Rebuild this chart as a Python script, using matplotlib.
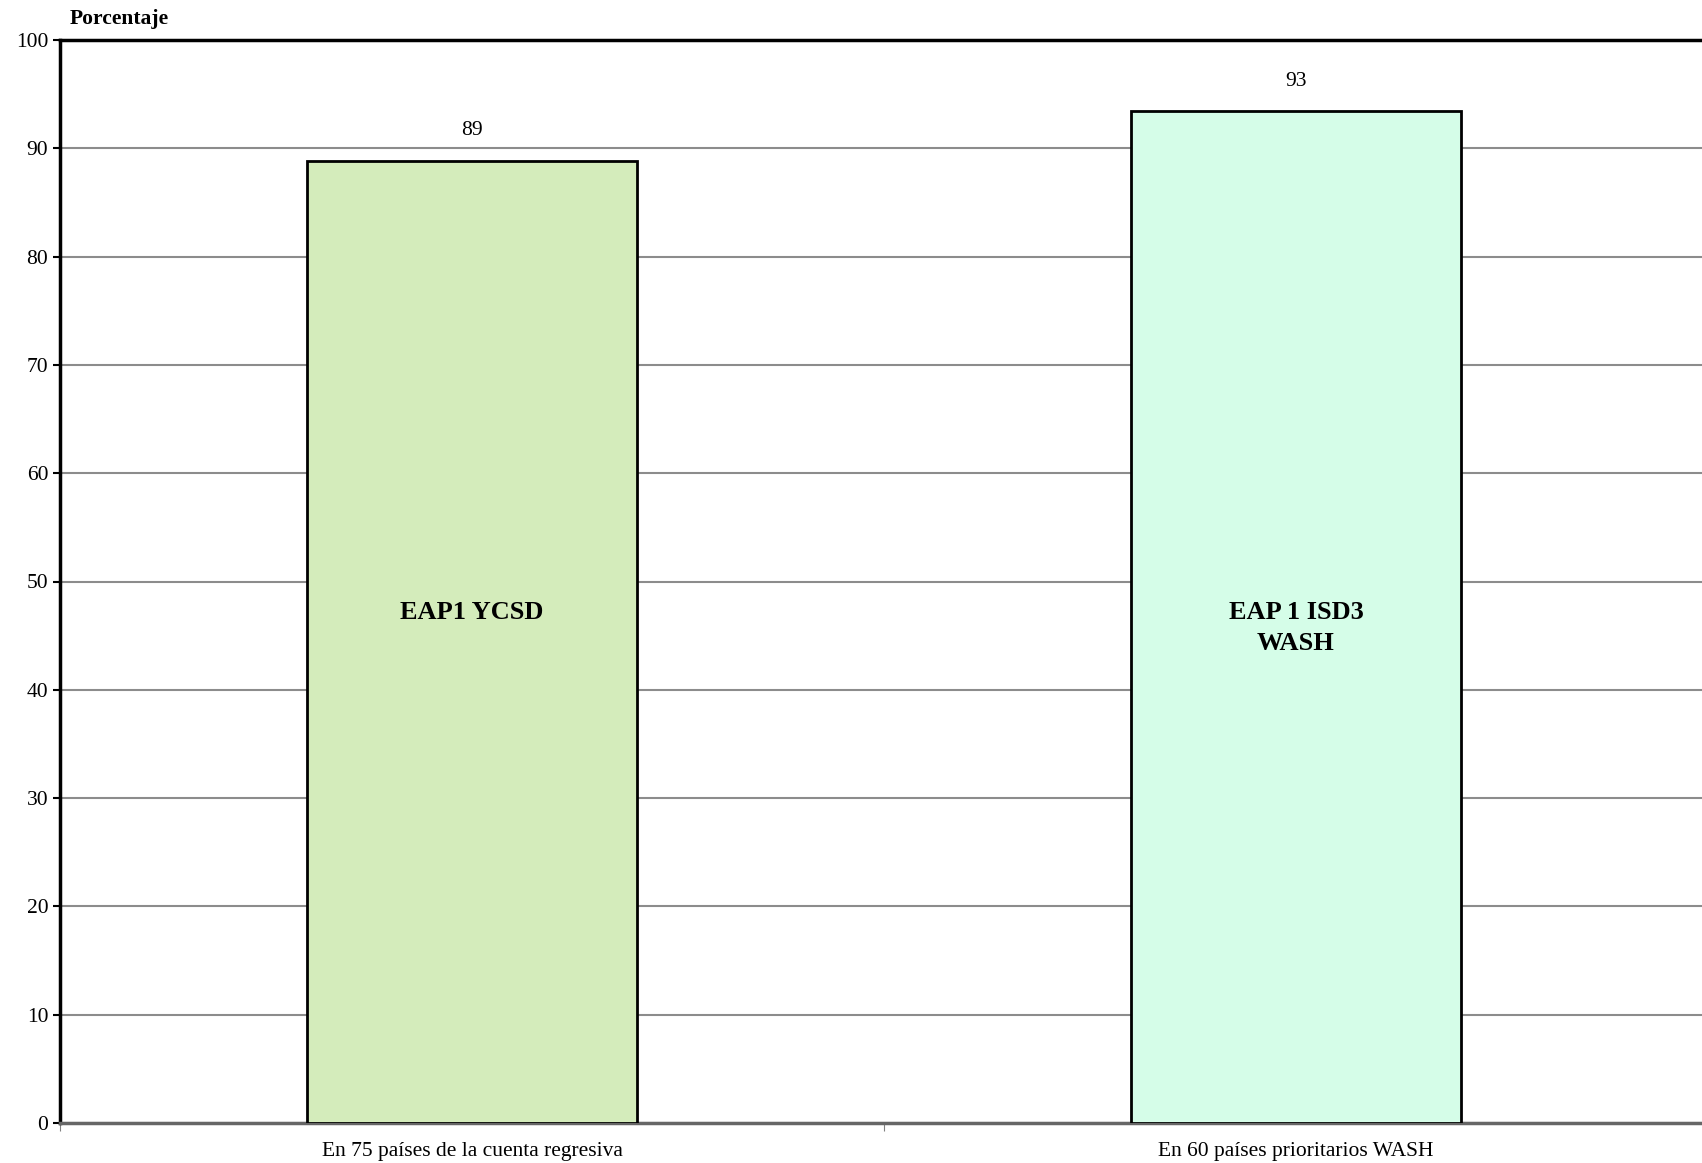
import matplotlib.pyplot as plt

categorias = ["En 75 países de la cuenta regresiva", "En 60 países prioritarios WASH"]
valores = [88.8, 93.4]
etiquetas_valor = ["89", "93"]
etiquetas_barra = ["EAP1 YCSD", "EAP 1 ISD3\nWASH"]
posicion_etiqueta = [47.1, 45.7]
colores = ["#d4ecbb", "#d5fde8"]
yticks = list(range(0, 101, 10))

plt.rcParams["font.family"] = ["Liberation Serif", "DejaVu Serif"]

fig = plt.figure(figsize=(17.02, 11.63), dpi=100)
ax = fig.add_axes([60 / 1702, 1 - 1123 / 1163, 1648 / 1702, 1083 / 1163])

x = list(range(len(categorias)))
ax.bar(x, valores, width=0.40, color=colores, edgecolor="black", linewidth=2, zorder=3)

for i in x:
    ax.text(i, valores[i] + 2.8, etiquetas_valor[i], ha="center", va="center", fontsize=15.5)
    ax.text(i, posicion_etiqueta[i], etiquetas_barra[i], ha="center", va="center",
            fontsize=19, fontweight="bold", linespacing=1.4, zorder=4)

ax.set_xlim(-0.5, 1.5)
ax.set_ylim(0, 100)
ax.set_yticks(yticks)
ax.tick_params(axis="y", labelsize=15.5, length=5, width=1.5, direction="out")
ax.set_xticks([-0.5, 0.5, 1.5], minor=False)
ax.set_xticklabels([])
ax.set_xticks(x, minor=True)
ax.set_xticklabels(categorias, minor=True, fontsize=15.5)
ax.tick_params(axis="x", which="major", length=6, width=0.8, color="gray")
ax.tick_params(axis="x", which="minor", length=0, pad=14)

ax.grid(axis="y", color="#8c8c8c", linewidth=1.5, zorder=0)
ax.spines["left"].set_linewidth(2.5)
ax.spines["top"].set_linewidth(2.5)
ax.spines["bottom"].set_linewidth(2.5)
ax.spines["bottom"].set_color("#666666")
ax.spines["right"].set_visible(False)

fig.text(70 / 1702, 1 - 19 / 1163, "Porcentaje", fontsize=15.5, fontweight="bold", va="center")

fig.savefig("out.png", dpi=100)
